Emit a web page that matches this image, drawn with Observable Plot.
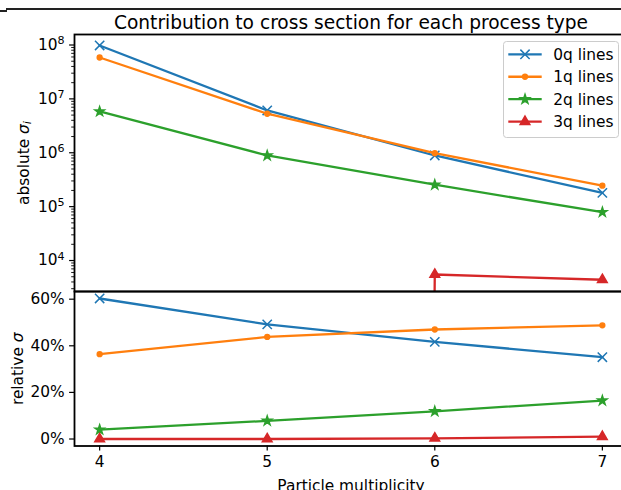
<!DOCTYPE html>
<html><head><meta charset="utf-8">
<script src="https://cdn.jsdelivr.net/npm/d3@7"></script>
<script src="https://cdn.jsdelivr.net/npm/@observablehq/plot@0.6"></script>
<style>
body{margin:0;background:#fff;}
#fig{position:relative;width:621px;height:490px;overflow:hidden;background:#fff;font-family:"DejaVu Sans",sans-serif;}
#fig > svg{position:absolute;left:0;top:0;max-width:none !important;}
.deco{position:absolute;background:#222;}
</style></head><body><div id="fig">
<div class="deco" style="left:6px;top:8px;width:620px;height:2px;"></div>
<div class="deco" style="left:0;top:10px;width:7px;height:1.5px;"></div>
</div>
<script>
// ---- data ----
const multiplicity = [4, 5, 6, 7];
const seriesNames = ["0q lines", "1q lines", "2q lines", "3q lines"];
const seriesColors = ["#1f77b4", "#ff7f0e", "#2ca02c", "#d62728"];
const seriesSymbols = ["times", "circle", "star", "triangle"];
const absolute0q = [9.8e7, 6.1e6, 8.9e5, 1.8e5];
const absolute1q = [5.86e7, 5.3e6, 9.8e5, 2.45e5];
const absolute2q = [5.84e6, 8.9e5, 2.55e5, 7.9e4];
const absolute3q = [0, 0, 5.5e3, 4.4e3];
const relative0q = [60.3, 49.2, 41.7, 35.1];
const relative1q = [36.4, 43.8, 47.0, 48.8];
const relative2q = [4.0, 7.8, 11.9, 16.5];
const relative3q = [0.0, 0.0, 0.3, 1.0];
const xTicks = [4, 5, 6, 7];
const absTicks = [1e4, 1e5, 1e6, 1e7, 1e8];
const relTicks = [0, 20, 40, 60];
const titleText = "Contribution to cross section for each process type";
const xLabel = "Particle multiplicity";
const yLabelTop = "absolute σ_i";
const yLabelBottom = "relative σ";

// ---- build table ----
const absArrays = [absolute0q, absolute1q, absolute2q, absolute3q];
const relArrays = [relative0q, relative1q, relative2q, relative3q];
const rows = seriesNames.flatMap((name, s) => multiplicity.map((m, i) => ({
  series: name, s, x: m, abs: absArrays[s][i], rel: relArrays[s][i]
})));
const minorTicks = absTicks.slice(0, -1).flatMap(t => d3.range(2, 10).map(k => k * t))
  .concat(d3.range(2, 10).map(k => k * 1e3)).concat([2e8]);

const markerR = {times: 4.3, circle: 2.4, star: 2.9, triangle: 3.6};
// matplotlib maps non-positive values on a log axis to a tiny positive number
const logSafe = v => (v > 0 ? v : 1e-300);

function seriesMarks(yAcc) {
  return seriesNames.flatMap((name, s) => {
    const data = rows.filter(d => d.s === s);
    const sym = seriesSymbols[s];
    return [
      Plot.line(data, {x: "x", y: yAcc, stroke: seriesColors[s], strokeWidth: 2.3, clip: "frame"}),
      Plot.dot(data, {x: "x", y: yAcc, symbol: sym, r: markerR[sym],
        fill: sym === "times" ? "none" : seriesColors[s],
        stroke: seriesColors[s], strokeWidth: 1.5, clip: "frame"})
    ];
  });
}

const W = 628, H = 490, FS = 15.4;
const common = {
  width: W, height: H, marginLeft: 74, marginRight: 1,
  x: {domain: [3.85, 7.15], axis: null},
  style: {background: "transparent", fontFamily: "DejaVu Sans, sans-serif", color: "black", overflow: "visible", maxWidth: "none"}
};

const topPlot = Plot.plot({
  ...common, marginTop: 34, marginBottom: H - 291,
  y: {type: "log", domain: [10 ** 3.425, 10 ** 8.195], axis: null},
  marks: [
    Plot.axisY(minorTicks.filter(t => t > 10 ** 3.425 && t < 10 ** 8.195), {tickSize: 2.8, strokeWidth: 0.9, tickFormat: () => "", label: null}),
    Plot.axisY(absTicks, {tickSize: 4.9, strokeWidth: 1.2, tickPadding: 5, fontSize: FS,
      tickFormat: d => "10^" + Math.round(Math.log10(d)), label: null}),
    Plot.text([titleText], {text: d => d, frameAnchor: "top", dy: -6, lineAnchor: "bottom", fontSize: 18.6, fill: "black"}),
    Plot.text([yLabelTop], {text: d => d, frameAnchor: "left", rotate: -90, dx: -46, lineAnchor: "bottom", textAnchor: "middle", fontSize: FS, fill: "black"}),
    ...seriesMarks(d => logSafe(d.abs)),
    Plot.frame({stroke: "black", strokeWidth: 1.8})
  ]
});

const bottomPlot = Plot.plot({
  ...common, marginTop: 291, marginBottom: H - 445.5,
  y: {domain: [-3.0, 63.3], axis: null},
  marks: [
    Plot.axisY(relTicks, {tickSize: 4.9, strokeWidth: 1.2, tickPadding: 5, fontSize: FS, tickFormat: d => d + "%", label: null}),
    Plot.axisX(xTicks, {tickSize: 4.9, strokeWidth: 1.2, tickPadding: 5, fontSize: FS, tickFormat: d => String(d), label: null}),
    Plot.text([xLabel], {text: d => d, frameAnchor: "bottom", dy: 45, lineAnchor: "bottom", fontSize: FS, fill: "black"}),
    Plot.text([yLabelBottom], {text: d => d, frameAnchor: "left", rotate: -90, dx: -52, lineAnchor: "bottom", textAnchor: "middle", fontSize: FS, fill: "black"}),
    ...seriesMarks("rel"),
    Plot.frame({stroke: "black", strokeWidth: 1.8})
  ]
});

const fig = document.getElementById("fig");
fig.appendChild(topPlot);
fig.appendChild(bottomPlot);

// rich text: superscripts on log tick labels, italic sigma in axis labels
d3.select(topPlot).selectAll("text").each(function () {
  const t = this.textContent;
  const m = t.match(/^(\d+)\^(\d+)$/);
  if (m) {
    const sel = d3.select(this); sel.text("");
    sel.append("tspan").text(m[1]);
    sel.append("tspan").attr("dy", "-0.5em").attr("font-size", "0.72em").text(m[2]);
  }
});
d3.select(fig).selectAll("svg text").each(function () {
  const t = this.textContent;
  if (t === yLabelTop || t === yLabelBottom) {
    const sel = d3.select(this); sel.text("");
    const [base, sub] = t.split("_");
    const parts = base.split("σ");
    sel.append("tspan").text(parts[0]);
    sel.append("tspan").attr("font-style", "italic").text("σ");
    if (sub) sel.append("tspan").attr("font-style", "italic").attr("font-size", "0.72em").attr("dy", "0.25em").text(sub);
  }
});

// ---- legend ----
const symMap = {times: d3.symbolTimes, circle: d3.symbolCircle, star: d3.symbolStar, triangle: d3.symbolTriangle};
const leg = d3.select(fig).append("svg").attr("width", 621).attr("height", 490);
leg.append("rect").attr("x", 503.5).attr("y", 41.5).attr("width", 115).attr("height", 96).attr("rx", 3)
  .attr("fill", "white").attr("fill-opacity", 0.8).attr("stroke", "#cccccc").attr("stroke-width", 1);
seriesNames.forEach((name, s) => {
  const y = 54.3 + s * 22.45;
  const sym = seriesSymbols[s];
  leg.append("line").attr("x1", 508.3).attr("x2", 541.7).attr("y1", y).attr("y2", y)
    .attr("stroke", seriesColors[s]).attr("stroke-width", 2.3);
  leg.append("path").attr("transform", `translate(525,${y})`)
    .attr("d", d3.symbol(symMap[sym], Math.PI * markerR[sym] ** 2)())
    .attr("fill", sym === "times" ? "none" : seriesColors[s])
    .attr("stroke", seriesColors[s]).attr("stroke-width", 1.5);
  leg.append("text").attr("x", 553.3).attr("y", y).attr("dy", "0.36em")
    .attr("font-size", FS).attr("fill", "black").text(name);
});
</script></body></html>
